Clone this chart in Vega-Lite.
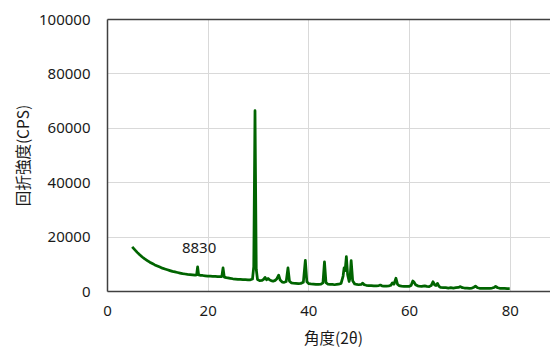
{
  "$schema": "https://vega.github.io/schema/vega-lite/v6.json",
  "width": 443,
  "height": 272,
  "autosize": {"type": "none"},
  "padding": {"left": 107, "top": 19, "right": 0, "bottom": 56},
  "background": "white",
  "config": {
    "view": {"stroke": null},
    "axis": {
      "labelFont": "Noto Sans",
      "labelFontSize": 15,
      "labelColor": "#1a1a1a",
      "labelFlush": false,
      "titleFont": "Noto Sans CJK JP",
      "titleFontSize": 15,
      "titleFontWeight": "normal",
      "titleColor": "#1a1a1a",
      "ticks": false,
      "tickSize": 0,
      "gridColor": "#d9d9d9",
      "gridWidth": 1,
      "domainColor": "#404040",
      "domainWidth": 1.5
    }
  },
  "datasets": {
    "xrd": [
      {"angle": 5.0, "cps": 16200}, {"angle": 5.5, "cps": 15200}, {"angle": 6.0, "cps": 14200},
      {"angle": 6.5, "cps": 13300}, {"angle": 7.0, "cps": 12500}, {"angle": 7.5, "cps": 11800},
      {"angle": 8.0, "cps": 11200}, {"angle": 8.5, "cps": 10600}, {"angle": 9.0, "cps": 10100},
      {"angle": 9.5, "cps": 9600}, {"angle": 10.0, "cps": 9200}, {"angle": 10.5, "cps": 8800},
      {"angle": 11.0, "cps": 8400}, {"angle": 11.5, "cps": 8100}, {"angle": 12.0, "cps": 7800},
      {"angle": 12.5, "cps": 7500}, {"angle": 13.0, "cps": 7200}, {"angle": 13.5, "cps": 7000},
      {"angle": 14.0, "cps": 6800}, {"angle": 14.5, "cps": 6600}, {"angle": 15.0, "cps": 6400},
      {"angle": 15.5, "cps": 6250}, {"angle": 16.0, "cps": 6100}, {"angle": 16.5, "cps": 6000},
      {"angle": 17.0, "cps": 5900}, {"angle": 17.5, "cps": 5800}, {"angle": 17.8, "cps": 5900},
      {"angle": 18.0, "cps": 8830}, {"angle": 18.2, "cps": 5900}, {"angle": 18.6, "cps": 5750},
      {"angle": 19.0, "cps": 5700}, {"angle": 19.5, "cps": 5600}, {"angle": 20.0, "cps": 5500},
      {"angle": 20.5, "cps": 5450}, {"angle": 21.0, "cps": 5400}, {"angle": 21.5, "cps": 5350},
      {"angle": 22.0, "cps": 5300}, {"angle": 22.5, "cps": 5250}, {"angle": 22.8, "cps": 5300},
      {"angle": 23.05, "cps": 8500}, {"angle": 23.3, "cps": 5100}, {"angle": 23.7, "cps": 4900},
      {"angle": 24.0, "cps": 4800}, {"angle": 24.5, "cps": 4650}, {"angle": 25.0, "cps": 4500},
      {"angle": 25.5, "cps": 4400}, {"angle": 26.0, "cps": 4300}, {"angle": 26.5, "cps": 4250},
      {"angle": 27.0, "cps": 4200}, {"angle": 27.5, "cps": 4150}, {"angle": 28.0, "cps": 4100},
      {"angle": 28.5, "cps": 4100}, {"angle": 28.9, "cps": 4400}, {"angle": 29.15, "cps": 9000},
      {"angle": 29.4, "cps": 66300}, {"angle": 29.65, "cps": 8000}, {"angle": 29.9, "cps": 4200},
      {"angle": 30.3, "cps": 3800}, {"angle": 30.8, "cps": 3900}, {"angle": 31.1, "cps": 4300},
      {"angle": 31.4, "cps": 5000}, {"angle": 31.7, "cps": 4100}, {"angle": 32.0, "cps": 4600},
      {"angle": 32.3, "cps": 4100}, {"angle": 32.6, "cps": 3800}, {"angle": 33.0, "cps": 3600},
      {"angle": 33.4, "cps": 3900}, {"angle": 33.7, "cps": 4400}, {"angle": 34.1, "cps": 5800},
      {"angle": 34.4, "cps": 4000}, {"angle": 34.8, "cps": 3300}, {"angle": 35.2, "cps": 3200},
      {"angle": 35.6, "cps": 3500}, {"angle": 35.95, "cps": 8500}, {"angle": 36.25, "cps": 3600},
      {"angle": 36.6, "cps": 3000}, {"angle": 37.0, "cps": 2900}, {"angle": 37.5, "cps": 2800},
      {"angle": 38.0, "cps": 2700}, {"angle": 38.5, "cps": 2800}, {"angle": 39.0, "cps": 3200},
      {"angle": 39.4, "cps": 11300}, {"angle": 39.7, "cps": 3400}, {"angle": 40.1, "cps": 2700},
      {"angle": 40.5, "cps": 2600}, {"angle": 41.0, "cps": 2500}, {"angle": 41.5, "cps": 2400},
      {"angle": 42.0, "cps": 2400}, {"angle": 42.5, "cps": 2500}, {"angle": 42.9, "cps": 3000},
      {"angle": 43.2, "cps": 10700}, {"angle": 43.5, "cps": 3100}, {"angle": 43.9, "cps": 2500},
      {"angle": 44.3, "cps": 2400}, {"angle": 44.8, "cps": 2400}, {"angle": 45.2, "cps": 2300},
      {"angle": 45.6, "cps": 2400}, {"angle": 46.0, "cps": 2500}, {"angle": 46.5, "cps": 2800},
      {"angle": 46.9, "cps": 5500}, {"angle": 47.1, "cps": 8500}, {"angle": 47.3, "cps": 7500},
      {"angle": 47.55, "cps": 12600}, {"angle": 47.8, "cps": 6000}, {"angle": 48.1, "cps": 3500},
      {"angle": 48.3, "cps": 5000}, {"angle": 48.5, "cps": 11200}, {"angle": 48.8, "cps": 3800},
      {"angle": 49.2, "cps": 2600}, {"angle": 49.6, "cps": 2400}, {"angle": 50.0, "cps": 2300},
      {"angle": 50.5, "cps": 2400}, {"angle": 50.8, "cps": 2900}, {"angle": 51.1, "cps": 2300},
      {"angle": 51.5, "cps": 2100}, {"angle": 52.0, "cps": 2000}, {"angle": 52.5, "cps": 2000},
      {"angle": 53.0, "cps": 1900}, {"angle": 53.5, "cps": 1900}, {"angle": 54.0, "cps": 2000},
      {"angle": 54.3, "cps": 2200}, {"angle": 54.6, "cps": 1900}, {"angle": 55.0, "cps": 1800},
      {"angle": 55.5, "cps": 1800}, {"angle": 56.0, "cps": 1900}, {"angle": 56.4, "cps": 2100},
      {"angle": 56.7, "cps": 3000}, {"angle": 57.0, "cps": 2500}, {"angle": 57.4, "cps": 4700},
      {"angle": 57.7, "cps": 2500}, {"angle": 58.0, "cps": 2000}, {"angle": 58.5, "cps": 1800},
      {"angle": 59.0, "cps": 1700}, {"angle": 59.5, "cps": 1700}, {"angle": 60.0, "cps": 1700},
      {"angle": 60.4, "cps": 2000}, {"angle": 60.75, "cps": 3700}, {"angle": 61.0, "cps": 3200},
      {"angle": 61.3, "cps": 2300}, {"angle": 61.7, "cps": 1900}, {"angle": 62.0, "cps": 1800},
      {"angle": 62.5, "cps": 1700}, {"angle": 63.1, "cps": 1900}, {"angle": 63.5, "cps": 1700},
      {"angle": 64.0, "cps": 1600}, {"angle": 64.4, "cps": 2000}, {"angle": 64.75, "cps": 3400},
      {"angle": 65.1, "cps": 2200}, {"angle": 65.35, "cps": 2000}, {"angle": 65.65, "cps": 2800},
      {"angle": 65.95, "cps": 1700}, {"angle": 66.3, "cps": 1300}, {"angle": 66.8, "cps": 1200},
      {"angle": 67.3, "cps": 1200}, {"angle": 67.8, "cps": 1100}, {"angle": 68.3, "cps": 1200},
      {"angle": 68.8, "cps": 1100}, {"angle": 69.3, "cps": 1200}, {"angle": 69.8, "cps": 1300},
      {"angle": 70.2, "cps": 1600}, {"angle": 70.6, "cps": 1200}, {"angle": 71.0, "cps": 1100},
      {"angle": 71.5, "cps": 1100}, {"angle": 72.0, "cps": 1000}, {"angle": 72.5, "cps": 1100},
      {"angle": 72.9, "cps": 1400}, {"angle": 73.2, "cps": 1800}, {"angle": 73.6, "cps": 1200},
      {"angle": 74.0, "cps": 1000}, {"angle": 74.5, "cps": 1000}, {"angle": 75.0, "cps": 1000},
      {"angle": 75.5, "cps": 1000}, {"angle": 76.0, "cps": 1000}, {"angle": 76.5, "cps": 1100},
      {"angle": 76.9, "cps": 1300}, {"angle": 77.2, "cps": 1700}, {"angle": 77.6, "cps": 1200},
      {"angle": 78.0, "cps": 1000}, {"angle": 78.5, "cps": 950}, {"angle": 79.0, "cps": 950},
      {"angle": 79.5, "cps": 900}, {"angle": 80.0, "cps": 900}
    ],
    "note": [{"angle": 18.0, "cps": 8830, "label": "8830"}]
  },
  "layer": [
    {
      "data": {"name": "xrd"},
      "mark": {"type": "line", "color": "#006400", "strokeWidth": 2.75, "strokeJoin": "round"},
      "encoding": {
        "x": {
          "field": "angle", "type": "quantitative",
          "scale": {"domain": [0, 88], "nice": false, "zero": false},
          "axis": {
            "values": [0, 20, 40, 60, 80],
            "title": "角度(2θ)",
            "labelPadding": 12,
            "titleX": 226, "titleY": 47,
            "titleAlign": "center", "titleBaseline": "middle",
            "titleFontSize": 15.5
          }
        },
        "y": {
          "field": "cps", "type": "quantitative",
          "scale": {"domain": [0, 100000], "nice": false},
          "axis": {
            "values": [0, 20000, 40000, 60000, 80000, 100000],
            "title": "回折強度(CPS)",
            "labelPadding": 17,
            "format": "d",
            "gridColor": {"condition": {"test": "datum.value === 100000", "value": "#404040"}, "value": "#d9d9d9"},
            "gridWidth": {"condition": {"test": "datum.value === 100000", "value": 1.5}, "value": 1},
            "titleX": -83.5, "titleY": 136,
            "titleAngle": -90,
            "titleAlign": "center", "titleBaseline": "middle",
            "titleFontSize": 15.5
          }
        }
      }
    },
    {
      "data": {"name": "note"},
      "mark": {"type": "text", "font": "Noto Sans", "fontSize": 15, "color": "#1a1a1a", "dx": 1.5, "dy": -18.5, "baseline": "middle", "align": "center"},
      "encoding": {
        "x": {"field": "angle", "type": "quantitative"},
        "y": {"field": "cps", "type": "quantitative"},
        "text": {"field": "label"}
      }
    }
  ]
}
